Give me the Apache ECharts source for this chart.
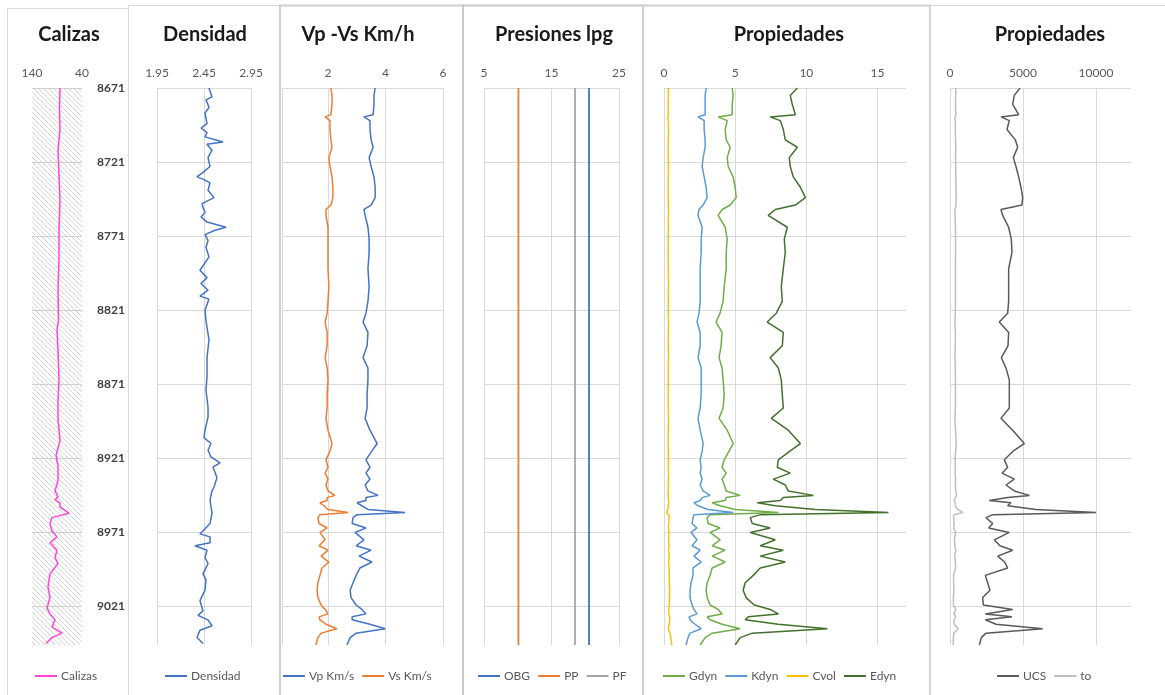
<!DOCTYPE html>
<html><head><meta charset="utf-8">
<script src="https://cdn.jsdelivr.net/npm/echarts@6/dist/echarts.min.js"></script>
<style>html,body{margin:0;padding:0;background:#fff}#c{width:1165px;height:695px}</style>
</head><body><div id="c"></div>
<script>
// ---------- DATA ----------
const depthTicks = [8671, 8721, 8771, 8821, 8871, 8921, 8971, 9021];

const calDepth = [8671, 8686, 8699, 8713, 8730, 8747, 8767, 8787, 8807, 8828, 8834, 8848, 8868, 8882, 8895, 8909, 8919, 8926, 8936, 8943, 8947, 8949, 8951, 8954, 8958, 8961, 8965, 8970, 8974, 8978, 8983, 8988, 8992, 8999, 9008, 9015, 9022, 9026, 9030, 9035, 9039, 9042, 9046];
const calizas = [84, 85, 84, 88, 86, 84, 86, 86, 88, 87, 90, 88, 86, 88, 88, 84, 92, 88, 88, 94, 88, 94, 84, 84, 66, 100, 104, 100, 90, 104, 90, 94, 88, 104, 108, 104, 110, 104, 94, 100, 80, 100, 112];

const densDepth = [8671, 8677, 8679, 8684, 8688, 8695, 8698, 8701, 8704, 8707.5, 8709, 8713, 8718, 8724, 8728, 8731, 8732.5, 8735, 8740, 8745, 8749, 8751.5, 8755, 8758, 8761.5, 8765, 8767, 8770, 8774, 8778.5, 8785, 8794, 8799, 8803, 8807.5, 8811.5, 8813.5, 8821, 8828, 8841, 8853, 8866, 8875, 8886.5, 8893, 8902, 8907, 8911, 8915.5, 8920, 8924, 8927, 8934, 8940.5, 8943, 8949, 8958, 8965, 8970, 8972, 8974, 8978, 8980, 8983, 8988, 8992, 8999, 9003, 9010, 9017, 9024, 9027, 9030, 9034, 9037, 9042, 9046];
const densidad = [2.503, 2.535, 2.471, 2.503, 2.461, 2.482, 2.418, 2.482, 2.461, 2.652, 2.482, 2.535, 2.493, 2.514, 2.439, 2.376, 2.439, 2.514, 2.493, 2.556, 2.429, 2.439, 2.461, 2.418, 2.482, 2.684, 2.567, 2.461, 2.493, 2.471, 2.503, 2.407, 2.482, 2.418, 2.493, 2.407, 2.503, 2.461, 2.471, 2.503, 2.482, 2.482, 2.471, 2.493, 2.493, 2.461, 2.45, 2.524, 2.493, 2.524, 2.62, 2.546, 2.588, 2.556, 2.535, 2.514, 2.535, 2.514, 2.439, 2.407, 2.514, 2.514, 2.354, 2.482, 2.461, 2.493, 2.439, 2.471, 2.461, 2.407, 2.439, 2.386, 2.493, 2.535, 2.407, 2.376, 2.439];

const logDepth = [8671, 8676, 8682, 8689, 8690.5, 8693, 8699, 8706, 8711, 8718, 8724, 8731, 8738, 8745, 8750, 8753, 8757, 8765, 8773, 8782, 8793, 8805, 8815, 8823, 8829, 8836, 8845, 8853, 8860, 8868, 8878, 8887, 8894, 8902, 8911, 8916, 8922, 8927, 8931, 8935, 8939, 8943, 8946, 8947.5, 8949.5, 8951, 8953, 8955.5, 8957.5, 8959, 8961, 8965, 8968, 8971, 8976, 8980, 8983, 8987, 8991, 8995, 9000, 9005, 9010, 9015, 9020, 9023, 9026, 9028, 9030, 9033, 9036, 9039, 9042, 9047];
const vp = [3.64, 3.60, 3.60, 3.57, 3.25, 3.46, 3.46, 3.50, 3.57, 3.43, 3.50, 3.60, 3.64, 3.64, 3.50, 3.25, 3.29, 3.39, 3.43, 3.43, 3.39, 3.43, 3.39, 3.32, 3.22, 3.39, 3.36, 3.22, 3.39, 3.39, 3.36, 3.36, 3.29, 3.46, 3.71, 3.53, 3.32, 3.46, 3.32, 3.46, 3.29, 3.39, 3.74, 3.32, 3.32, 3.01, 3.18, 3.39, 4.68, 3.01, 2.87, 2.84, 3.32, 2.94, 3.25, 2.98, 3.50, 3.08, 3.53, 3.11, 2.98, 2.87, 2.77, 2.80, 2.98, 3.18, 3.32, 2.84, 2.84, 3.46, 3.99, 2.98, 2.77, 2.66];
const vs = [2.10, 2.14, 2.14, 2.10, 1.90, 2.07, 2.07, 2.10, 2.14, 2.03, 2.07, 2.14, 2.17, 2.17, 2.10, 1.93, 1.93, 2.00, 2.00, 2.00, 2.00, 2.03, 2.00, 1.97, 1.90, 1.97, 1.97, 1.90, 1.97, 2.00, 1.97, 1.97, 1.93, 2.00, 2.14, 2.07, 1.93, 2.00, 1.90, 2.00, 1.93, 2.00, 2.24, 1.97, 1.97, 1.72, 1.86, 2.00, 2.70, 1.72, 1.65, 1.69, 1.97, 1.72, 1.90, 1.69, 2.00, 1.76, 2.03, 1.79, 1.72, 1.65, 1.62, 1.65, 1.76, 1.90, 2.00, 1.69, 1.72, 1.93, 2.31, 1.76, 1.65, 1.58];

const presDepth = [8671, 9047];
const obg = [20.56, 20.56];
const pp = [10.1, 10.1];
const pf = [18.48, 18.48];

const gdyn = [4.79, 4.86, 4.79, 4.79, 3.80, 4.44, 4.30, 4.37, 4.65, 4.44, 4.51, 4.86, 5.00, 5.07, 4.65, 4.08, 3.80, 4.30, 4.44, 4.37, 4.37, 4.23, 4.15, 3.94, 3.66, 4.08, 4.01, 3.87, 4.08, 4.15, 4.23, 4.15, 3.87, 4.44, 4.86, 4.58, 4.23, 4.08, 4.37, 4.08, 4.23, 4.37, 5.35, 4.37, 4.30, 3.38, 3.94, 5.00, 8.03, 3.24, 3.03, 3.10, 3.94, 3.24, 3.94, 3.38, 4.30, 3.38, 4.30, 3.38, 3.24, 3.03, 2.96, 3.03, 3.24, 3.80, 4.08, 3.03, 3.24, 4.08, 5.35, 3.38, 2.89, 2.54];
const kdyn = [2.96, 2.89, 2.89, 2.89, 2.39, 2.82, 2.82, 2.89, 2.89, 2.75, 2.68, 2.82, 2.96, 3.03, 2.75, 2.46, 2.39, 2.68, 2.61, 2.61, 2.54, 2.54, 2.54, 2.46, 2.32, 2.54, 2.54, 2.39, 2.61, 2.61, 2.61, 2.54, 2.39, 2.54, 2.75, 2.68, 2.54, 2.61, 2.54, 2.68, 2.54, 2.75, 3.24, 2.68, 2.54, 2.11, 2.39, 3.10, 4.86, 2.11, 2.04, 1.97, 2.32, 1.90, 2.32, 1.97, 2.54, 2.11, 2.61, 2.04, 2.04, 1.90, 1.83, 1.83, 1.97, 2.11, 2.32, 1.76, 1.83, 2.18, 2.61, 1.83, 1.69, 1.55];
const cvol = [0.30, 0.31, 0.29, 0.30, 0.27, 0.30, 0.31, 0.30, 0.29, 0.30, 0.31, 0.30, 0.29, 0.30, 0.30, 0.32, 0.31, 0.30, 0.30, 0.29, 0.30, 0.31, 0.30, 0.30, 0.32, 0.30, 0.30, 0.31, 0.30, 0.30, 0.29, 0.30, 0.31, 0.30, 0.29, 0.30, 0.31, 0.30, 0.32, 0.30, 0.31, 0.30, 0.29, 0.30, 0.31, 0.33, 0.30, 0.28, 0.18, 0.33, 0.35, 0.34, 0.30, 0.35, 0.32, 0.36, 0.31, 0.37, 0.32, 0.36, 0.37, 0.38, 0.40, 0.39, 0.37, 0.33, 0.34, 0.40, 0.41, 0.36, 0.30, 0.42, 0.48, 0.55];
const edyn = [9.37, 8.87, 9.01, 9.23, 7.46, 8.17, 8.38, 8.52, 9.37, 8.80, 8.87, 9.08, 9.58, 9.93, 9.23, 7.82, 7.32, 8.66, 8.45, 8.52, 8.38, 8.24, 8.31, 7.89, 7.25, 8.38, 8.31, 7.46, 8.03, 8.24, 8.31, 8.38, 7.54, 8.73, 9.58, 8.87, 8.03, 7.96, 8.87, 7.68, 8.52, 8.73, 10.49, 8.38, 8.17, 6.55, 7.82, 10.63, 15.77, 6.76, 6.06, 6.20, 7.46, 6.06, 7.82, 6.76, 8.38, 6.76, 8.52, 6.76, 6.27, 5.70, 5.56, 5.77, 6.34, 7.46, 8.03, 5.92, 5.70, 8.03, 11.48, 6.20, 5.35, 5.00];
const ucs = [4795, 4406, 4292, 4703, 3493, 4064, 3904, 4475, 4634, 4338, 4520, 4703, 4863, 4977, 4931, 3493, 3607, 4018, 4200, 4246, 4018, 4018, 4018, 3950, 3379, 4018, 3972, 3516, 3835, 4064, 4064, 4064, 3493, 4292, 5091, 4338, 3721, 3950, 3561, 4406, 3835, 4406, 5434, 3950, 2694, 4178, 3950, 5890, 10000, 2922, 2466, 2922, 2648, 4064, 3036, 3424, 4292, 3265, 3744, 3950, 2420, 2580, 2740, 2237, 2283, 4292, 2420, 4246, 2420, 3150, 6347, 2466, 2146, 2010];
const to = [400, 390, 380, 400, 330, 370, 360, 380, 400, 380, 390, 400, 410, 420, 410, 340, 350, 370, 380, 380, 370, 370, 370, 365, 330, 370, 365, 340, 360, 370, 370, 370, 340, 380, 430, 390, 350, 370, 340, 390, 360, 390, 450, 370, 280, 380, 360, 520, 880, 290, 250, 280, 260, 380, 300, 330, 400, 320, 370, 380, 240, 250, 270, 230, 240, 400, 260, 400, 260, 300, 560, 260, 230, 220];

const titles = ['Calizas', 'Densidad', 'Vp -Vs Km/h', 'Presiones lpg', 'Propiedades', 'Propiedades'];
const xTickValues = [[40, 140], [1.95, 2.45, 2.95], [2, 4, 6], [5, 15, 25], [0, 5, 10, 15], [0, 5000, 10000]];

// ---------- LAYOUT ----------
const FONT = 'Lato, "Open Sans", "DejaVu Sans", sans-serif';
const GRID_COLOR = '#D9D9D9';
const gridBoxes = [
  {left: 32, width: 50, cx: 69},
  {left: 157, width: 94, cx: 205},
  {left: 282, width: 161, cx: 358},
  {left: 484, width: 135, cx: 554},
  {left: 664, width: 242, cx: 789},
  {left: 950, width: 181, cx: 1050}
];
const xRanges = [
  {min: 40, max: 140, inverse: true, ticks: [40, 140], split: false},
  {min: 1.95, max: 2.95, ticks: [1.95, 2.45, 2.95], split: true},
  {min: 0.4, max: 6, ticks: [0.4, 2, 4, 6], split: true},
  {min: 5, max: 25, ticks: [5, 15, 25], split: true},
  {min: 0, max: 17, ticks: [0, 5, 10, 15], split: true},
  {min: 0, max: 12400, ticks: [0, 5000, 10000], split: true}
];

function hatch() {
  const c = document.createElement('canvas');
  c.width = 5; c.height = 5;
  const g = c.getContext('2d');
  g.strokeStyle = '#d0d0d0'; g.lineWidth = 0.9;
  g.beginPath();
  g.moveTo(-1, -1); g.lineTo(6, 6);
  g.moveTo(-1, 4); g.lineTo(1, 6);
  g.moveTo(4, -1); g.lineTo(6, 1);
  g.stroke();
  return c;
}

const grid = gridBoxes.map((b, i) => {
  const g = {left: b.left, width: b.width, top: 88, height: 557, containLabel: false, borderWidth: 0};
  if (i === 0) { g.show = true; g.backgroundColor = {image: hatch(), repeat: 'repeat'}; g.borderWidth = 0; }
  return g;
});

const plain = v => String(v);

const xAxis = xRanges.map((r, i) => ({
  type: 'value', gridIndex: i, position: 'top', min: r.min, max: r.max, inverse: !!r.inverse,
  axisLine: {show: false},
  axisTick: {show: false, customValues: r.ticks},
  axisLabel: {show: true, customValues: xTickValues[i], formatter: plain, color: '#595959', fontSize: 12, margin: 9, fontFamily: FONT},
  splitLine: {show: r.split, lineStyle: {color: GRID_COLOR, width: 1}}
}));

const yAxis = gridBoxes.map((b, i) => ({
  type: 'value', gridIndex: i, min: 8671, max: 9047, inverse: true,
  position: i === 0 ? 'right' : 'left',
  axisLine: {show: false},
  axisTick: {show: false, customValues: depthTicks},
  axisLabel: {show: i === 0, customValues: depthTicks, formatter: plain, color: '#404040', fontSize: 12, fontWeight: 'bold', margin: 15, fontFamily: FONT},
  splitLine: {show: true, lineStyle: {color: i === 0 ? '#cfcfcf' : GRID_COLOR, width: 1}}
}));

function pairs(vals, depths) { return vals.map((v, k) => [v, depths[k]]); }
function line(name, idx, vals, depths, color, w) {
  return {
    type: 'line', name: name, xAxisIndex: idx, yAxisIndex: idx,
    data: pairs(vals, depths), symbol: 'none', showSymbol: false,
    lineStyle: {color: color, width: w || 1.5}, itemStyle: {color: color},
    animation: false, z: 3
  };
}

const series = [
  line('Calizas', 0, calizas, calDepth, '#FF45D8'),
  line('Densidad', 1, densidad, densDepth, '#4472C4'),
  line('Vp Km/s', 2, vp, logDepth, '#4472C4'),
  line('Vs Km/s', 2, vs, logDepth, '#ED7D31'),
  line('OBG', 3, obg, presDepth, '#4472C4', 1.8),
  line('PP', 3, pp, presDepth, '#ED7D31', 1.8),
  line('PF', 3, pf, presDepth, '#A5A5A5', 1.8),
  line('Gdyn', 4, gdyn, logDepth, '#70AD47'),
  line('Kdyn', 4, kdyn, logDepth, '#5B9BD5'),
  line('Cvol', 4, cvol, logDepth, '#FFC000'),
  line('Edyn', 4, edyn, logDepth, '#44702D'),
  line('UCS', 5, ucs, logDepth, '#595959'),
  line('to', 5, to, logDepth, '#BFBFBF')
];

const legendDefs = [
  {left: 35, data: ['Calizas']},
  {left: 165, data: ['Densidad']},
  {left: 283, data: ['Vp Km/s', 'Vs Km/s']},
  {left: 478, data: ['OBG', 'PP', 'PF']},
  {left: 663, data: ['Gdyn', 'Kdyn', 'Cvol', 'Edyn']},
  {left: 997, data: ['UCS', 'to']}
];
const legend = legendDefs.map(l => ({
  left: l.left, top: 670, padding: 0, data: l.data, icon: 'rect', itemWidth: 22, itemHeight: 2, itemGap: 8,
  textStyle: {color: '#595959', fontSize: 12, fontFamily: FONT, padding: [0, 0, 0, -1]}, selectedMode: false
}));

const title = titles.map((t, i) => ({
  text: t, left: gridBoxes[i].cx, top: 25, textAlign: 'center', padding: 0,
  textStyle: {fontSize: 20, fontWeight: 'bold', color: '#1a1a1a', fontFamily: FONT}
}));

const panels = [
  {x: 7.5, y: 8.5, w: 121, c: '#D9D9D9', lw: 1},
  {x: 128.5, y: 5.5, w: 151.5, c: '#D9D9D9', lw: 1},
  {x: 280, y: 5.5, w: 183, c: '#CFCFCF', lw: 2},
  {x: 463, y: 5.5, w: 180, c: '#C8C8C8', lw: 2},
  {x: 643, y: 5.5, w: 287, c: '#D0D0D0', lw: 2},
  {x: 930, y: 5.5, w: 245, c: '#D9D9D9', lw: 1}
];
const graphic = panels.map(p => ({
  type: 'rect', silent: true, z: -1,
  shape: {x: p.x, y: p.y, width: p.w, height: 720},
  style: {fill: 'none', stroke: p.c, lineWidth: p.lw}
}));

const chart = echarts.init(document.getElementById('c'), null, {renderer: 'canvas'});
chart.setOption({
  backgroundColor: '#fff',
  animation: false,
  textStyle: {fontFamily: FONT},
  title: title,
  legend: legend,
  grid: grid,
  xAxis: xAxis,
  yAxis: yAxis,
  series: series,
  graphic: graphic
});
</script>
</body></html>
